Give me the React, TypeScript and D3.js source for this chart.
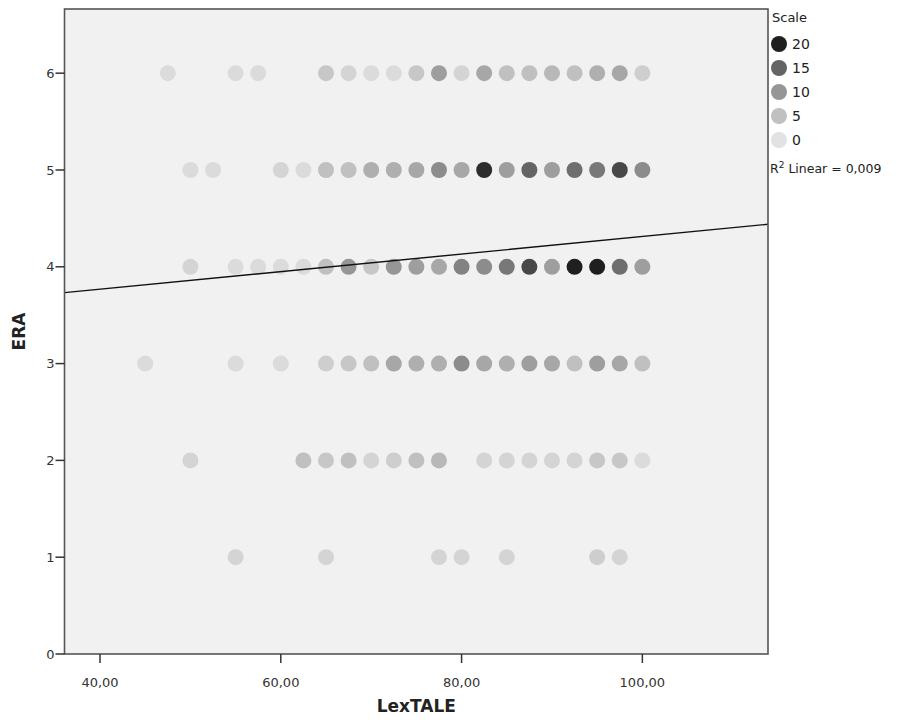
import React from "react";
import * as d3 from "d3";

// ERA rows: LexTALE values and count of cases at each point
const era6X = [47.5, 55, 57.5, 65, 67.5, 70, 72.5, 75, 77.5, 80, 82.5, 85, 87.5, 90, 92.5, 95, 97.5, 100];
const era6N = [1, 1, 1, 4, 2, 1, 1, 4, 9, 2, 8, 5, 5, 6, 5, 7, 8, 3];
const era5X = [50, 52.5, 60, 62.5, 65, 67.5, 70, 72.5, 75, 77.5, 80, 82.5, 85, 87.5, 90, 92.5, 95, 97.5, 100];
const era5N = [1, 1, 2, 1, 5, 5, 7, 7, 8, 11, 8, 19, 9, 15, 9, 14, 13, 17, 11];
const era4X = [50, 55, 57.5, 60, 62.5, 65, 67.5, 70, 72.5, 75, 77.5, 80, 82.5, 85, 87.5, 90, 92.5, 95, 97.5, 100];
const era4N = [2, 1, 1, 1, 1, 5, 10, 4, 10, 9, 8, 12, 11, 13, 17, 9, 20, 20, 14, 9];
const era3X = [45, 55, 60, 65, 67.5, 70, 72.5, 75, 77.5, 80, 82.5, 85, 87.5, 90, 92.5, 95, 97.5, 100];
const era3N = [1, 1, 1, 3, 4, 5, 8, 7, 7, 11, 8, 7, 9, 8, 5, 9, 8, 5];
const era2X = [50, 62.5, 65, 67.5, 70, 72.5, 75, 77.5, 82.5, 85, 87.5, 90, 92.5, 95, 97.5, 100];
const era2N = [2, 5, 4, 5, 2, 3, 5, 6, 2, 2, 2, 2, 2, 4, 4, 1];
const era1X = [55, 65, 77.5, 80, 85, 95, 97.5];
const era1N = [2, 2, 2, 2, 2, 3, 2];

const rows = [
  { era: 6, xs: era6X, ns: era6N },
  { era: 5, xs: era5X, ns: era5N },
  { era: 4, xs: era4X, ns: era4N },
  { era: 3, xs: era3X, ns: era3N },
  { era: 2, xs: era2X, ns: era2N },
  { era: 1, xs: era1X, ns: era1N },
];

const xTicks = [40, 60, 80, 100];
const yTicks = [0, 1, 2, 3, 4, 5, 6];
const legendValues = [20, 15, 10, 5, 0];
const fitIntercept = 3.406;
const fitSlope = 0.00907;
const r2Text = "0,009";

export default function App() {
  const W = 910, H = 723;
  const left = 64.5, right = 768, top = 9, bottom = 654;
  const x = d3.scaleLinear().domain([36.07, 113.9]).range([left, right]);
  const y = d3.scaleLinear().domain([0, 6.663]).range([bottom, top]);
  const color = d3
    .scaleLinear<string>()
    .domain([0, 5, 10, 15, 20])
    .range(["#e2e2e2", "#c0c0c0", "#969696", "#646464", "#1f1f1f"])
    .clamp(true);
  const fmt = (v: number) => v.toFixed(2).replace(".", ",");
  const font = "'DejaVu Sans', 'Noto Sans', sans-serif";
  const r = 8;
  const xd = x.domain();
  const line = d3
    .line<number>()
    .x((d) => x(d))
    .y((d) => y(fitIntercept + fitSlope * d));

  const points = rows.flatMap((row) =>
    row.xs.map((xv, i) => ({ era: row.era, x: xv, n: row.ns[i] }))
  );

  return (
    <svg
      width={W}
      height={H}
      style={{ position: "absolute", left: 0, top: 0, background: "#fff" }}
      fontFamily={font}
    >
      <rect x={left} y={top} width={right - left} height={bottom - top} fill="#f1f1f1" />
      <clipPath id="plotclip">
        <rect x={left} y={top} width={right - left} height={bottom - top} />
      </clipPath>
      {points.map((p, i) => (
        <circle key={i} cx={x(p.x)} cy={y(p.era)} r={r} fill={color(p.n)} />
      ))}
      <path
        d={line([xd[0], xd[1]]) || ""}
        stroke="#111"
        strokeWidth={1.4}
        fill="none"
        clipPath="url(#plotclip)"
      />
      <rect
        x={left}
        y={top}
        width={right - left}
        height={bottom - top}
        fill="none"
        stroke="#555"
        strokeWidth={1.6}
      />
      {yTicks.map((t) => (
        <g key={"y" + t}>
          <line x1={left - 9} x2={left} y1={y(t)} y2={y(t)} stroke="#333" strokeWidth={1.5} />
          <text x={left - 10} y={y(t)} dy="0.35em" textAnchor="end" fontSize={13} fill="#333">
            {t}
          </text>
        </g>
      ))}
      {xTicks.map((t) => (
        <g key={"x" + t}>
          <line x1={x(t)} x2={x(t)} y1={bottom} y2={bottom + 9} stroke="#333" strokeWidth={1.5} />
          <text x={x(t)} y={bottom + 28} dy="0.35em" textAnchor="middle" fontSize={13} fill="#333">
            {fmt(t)}
          </text>
        </g>
      ))}
      <text
        x={(left + right) / 2}
        y={712}
        textAnchor="middle"
        fontSize={17}
        fontWeight="bold"
        fill="#222"
      >
        LexTALE
      </text>
      <text
        transform={`translate(25,${(top + bottom) / 2}) rotate(-90)`}
        textAnchor="middle"
        fontSize={17}
        fontWeight="bold"
        fill="#222"
      >
        ERA
      </text>
      <text x={772} y={22} fontSize={13} fill="#222">
        Scale
      </text>
      {legendValues.map((v, i) => (
        <g key={"l" + v}>
          <circle cx={779} cy={44 + i * 24} r={8} fill={color(v)} />
          <text x={792} y={44 + i * 24} dy="0.35em" fontSize={14} fill="#222">
            {v}
          </text>
        </g>
      ))}
      <text x={770} y={173} fontSize={12.5} fill="#222">
        R<tspan dy={-5} fontSize={9}>2</tspan>
        <tspan dy={5}> Linear = {r2Text}</tspan>
      </text>
    </svg>
  );
}
